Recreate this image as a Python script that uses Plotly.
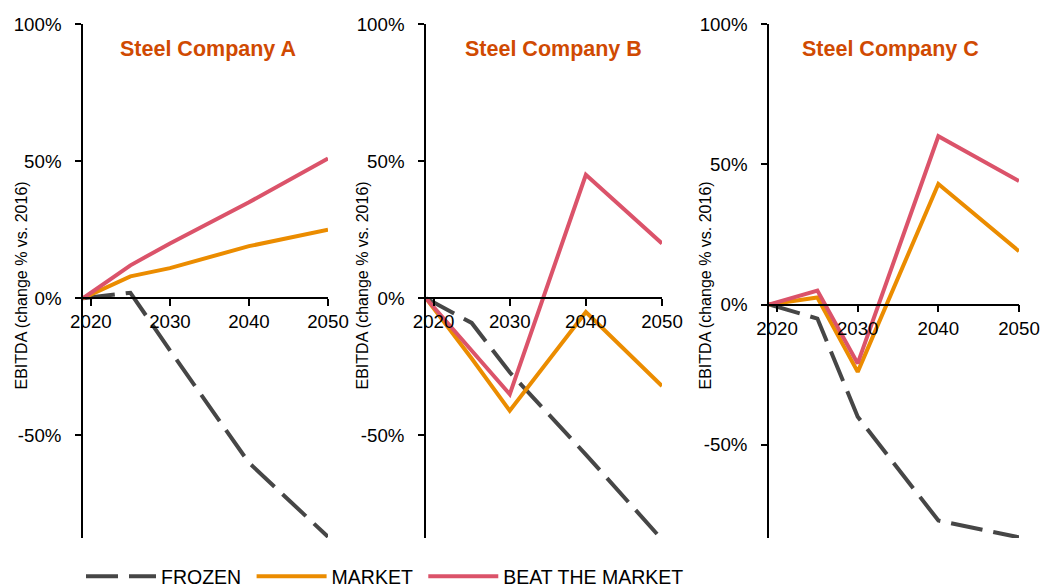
import plotly.graph_objects as go

# data (EBITDA change % vs. 2016)
years = [2019, 2025, 2030, 2040, 2050]
tick_years = [2020, 2030, 2040, 2050]
pct_ticks = [-50, 0, 50, 100]
pct_labels = ["-50%", "0%", "50%", "100%"]

companies = ["Steel Company A", "Steel Company B", "Steel Company C"]

frozen_a = [0, 2, -19, -60, -87]
market_a = [0, 8, 11, 19, 25]
beat_a = [0, 12, 20, 35, 51]

frozen_b = [0, -9, -27, -57, -88]
market_b = [0, -22, -41, -5, -32]
beat_b = [0, -19, -35, 45, 20]

frozen_c = [0, -5, -40, -77, -83]
market_c = [0, 2.5, -24, 43, 19]
beat_c = [0, 5, -21, 60, 44]

series = [
    (frozen_a, market_a, beat_a),
    (frozen_b, market_b, beat_b),
    (frozen_c, market_c, beat_c),
]

y_ranges = [(-87.4, 100), (-87.4, 100), (-83.2, 100)]

# layout positions are given in reference pixels (1040 x 587)
REF_W, REF_H = 1040, 587
W, H = 1040, 596  # the capture squeezes the page height slightly
FONT = "Arial, Liberation Sans, sans-serif"
COL_FROZEN = "#464646"
COL_MARKET = "#EB8C00"
COL_BEAT = "#DB536A"
COL_TITLE = "#D04A02"


def px_x(p):
    return p / REF_W


def px_y(p):
    return 1 - p / REF_H


# panel x extents in pixels (left axis .. 2050)
x_px = [(83, 328), (426, 662), (769, 1019)]
y_dom = [px_y(537), px_y(24)]
title_px = [208, 553, 890]
ytitle_px = [21, 362, 705]

fig = go.Figure()

for i, (frz, mkt, beat) in enumerate(series):
    n = "" if i == 0 else str(i + 1)
    xa, ya = "x" + n, "y" + n
    fig.add_trace(go.Scatter(
        x=years, y=frz, xaxis=xa, yaxis=ya, mode="lines", name="FROZEN\u00a0",
        line=dict(color=COL_FROZEN, width=4, dash="32px,11px"),
        showlegend=(i == 0), legendgroup="frozen",
    ))
    fig.add_trace(go.Scatter(
        x=years, y=mkt, xaxis=xa, yaxis=ya, mode="lines", name="MARKET\u00a0",
        line=dict(color=COL_MARKET, width=4),
        showlegend=(i == 0), legendgroup="market",
    ))
    fig.add_trace(go.Scatter(
        x=years, y=beat, xaxis=xa, yaxis=ya, mode="lines", name="BEAT THE MARKET",
        line=dict(color=COL_BEAT, width=4),
        showlegend=(i == 0), legendgroup="beat",
    ))

layout = {}
annotations = []
for i in range(3):
    n = "" if i == 0 else str(i + 1)
    ymin, ymax = y_ranges[i]
    zero_pos = y_dom[0] + (0 - ymin) / (ymax - ymin) * (y_dom[1] - y_dom[0])
    layout["xaxis" + n] = dict(
        domain=[px_x(x_px[i][0]), px_x(x_px[i][1])],
        range=[years[0], years[-1]],
        anchor="free", position=zero_pos,
        tickvals=tick_years, ticks="outside", ticklen=7, tickwidth=1.5,
        tickcolor="black", showline=True, linecolor="black", linewidth=1.5,
        showgrid=False, zeroline=False, automargin=False,
        tickfont=dict(size=18.7, color="black", family=FONT),
        ticklabelstandoff=0,
    )
    layout["yaxis" + n] = dict(
        domain=y_dom, range=[ymin, ymax],
        anchor="x" + n,
        tickvals=pct_ticks, ticktext=pct_labels,
        ticks="outside", ticklen=6, tickwidth=1.5, tickcolor="black",
        showline=True, linecolor="black", linewidth=1.5,
        showgrid=False, zeroline=False, automargin=False,
        tickfont=dict(size=18.7, color="black", family=FONT),
        ticklabelstandoff=10,
    )
    annotations.append(dict(
        text="<b>%s</b>" % companies[i], xref="paper", yref="paper",
        x=px_x(title_px[i]), y=px_y(49), xanchor="center", yanchor="middle",
        showarrow=False, font=dict(size=21.5, color=COL_TITLE, family=FONT),
    ))
    annotations.append(dict(
        text="EBITDA (change % vs. 2016)", xref="paper", yref="paper",
        x=px_x(ytitle_px[i]), y=px_y(285), xanchor="center", yanchor="middle",
        textangle=-90, showarrow=False,
        font=dict(size=16, color="black", family=FONT),
    ))

fig.update_layout(
    **layout,
    annotations=annotations,
    width=W, height=H,
    margin=dict(l=0, r=0, t=0, b=0),
    plot_bgcolor="white", paper_bgcolor="white",
    font=dict(family=FONT, color="black"),
    showlegend=True,
    legend=dict(
        orientation="h", x=px_x(81), y=px_y(576),
        xanchor="left", yanchor="middle",
        font=dict(size=19.5, color="black", family=FONT),
        itemwidth=70,
        bgcolor="rgba(0,0,0,0)",
    ),
)

fig.write_html(
    "out.html",
    config={"displayModeBar": False},
    post_script="document.body.style.margin='0';",
)
